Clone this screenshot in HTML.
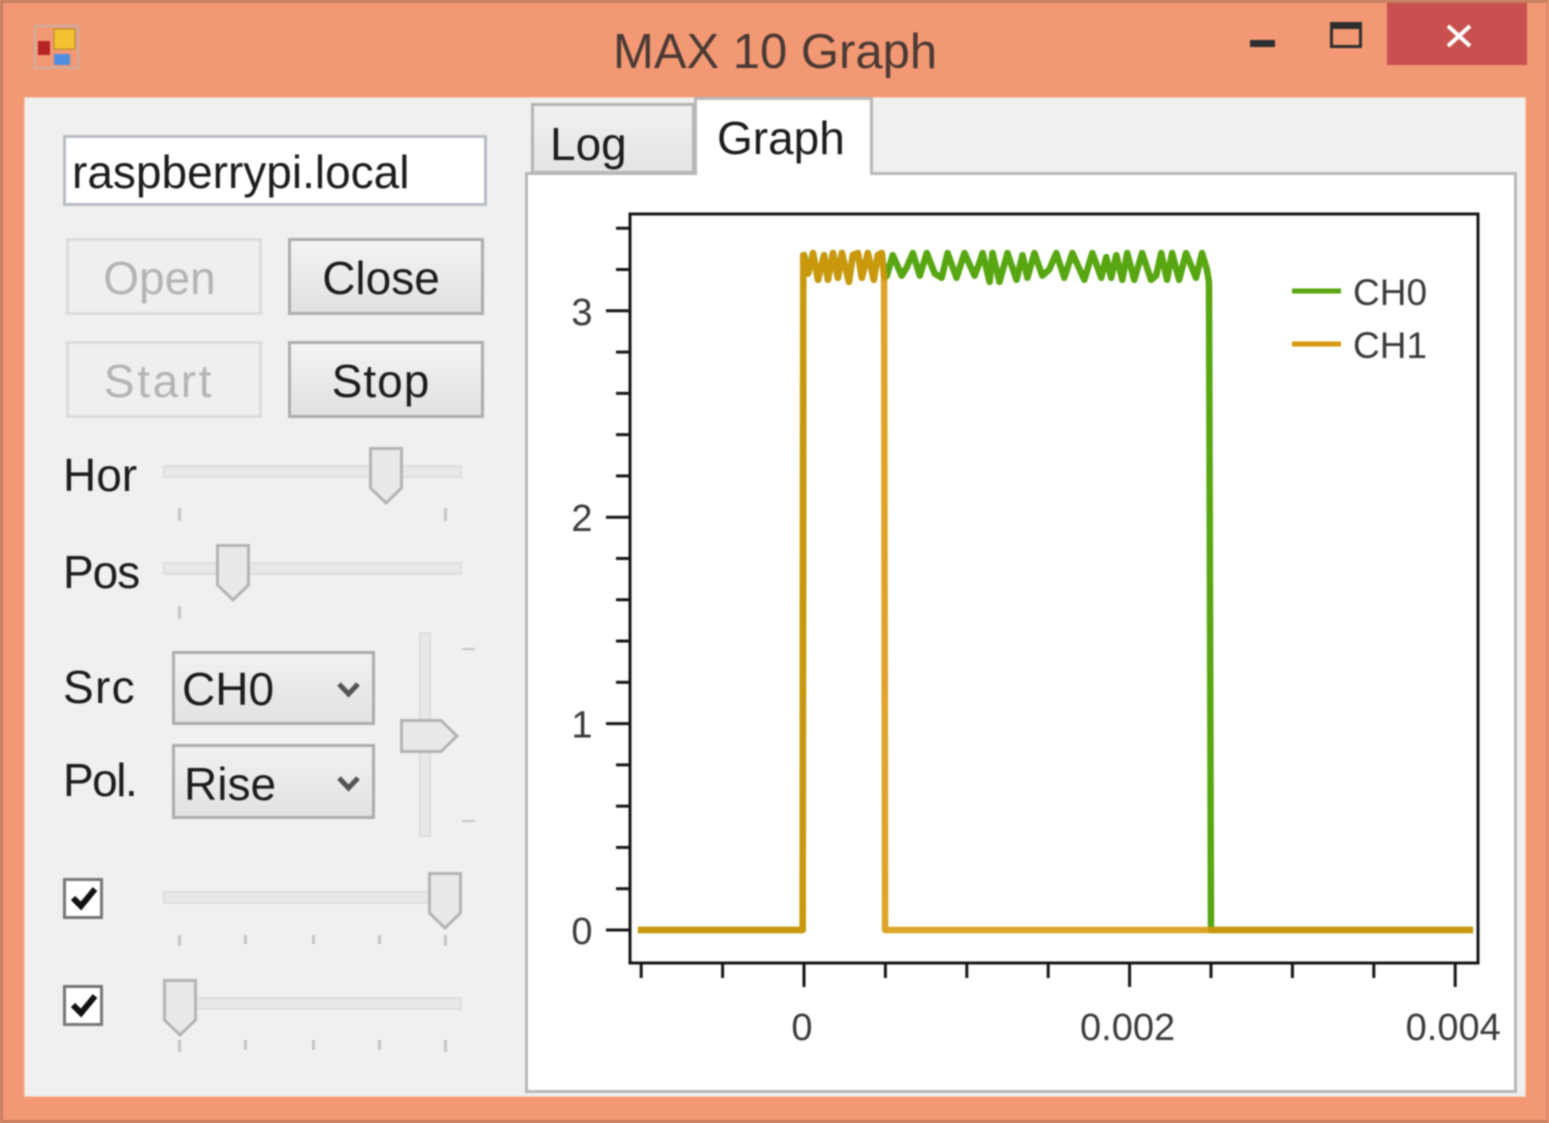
<!DOCTYPE html>
<html lang="en">
<head>
<meta charset="utf-8">
<title>MAX 10 Graph</title>
<style>
html,body{margin:0;padding:0;background:#f29874;}
#win{position:relative;width:1549px;height:1123px;overflow:hidden;background:#f29874;font-family:"Liberation Sans",sans-serif;color:#1c1c1c;filter:blur(.7px);box-sizing:border-box;border:3px solid #c47f60;border-right-color:#e08c6a;}
#win>*{position:absolute;box-sizing:border-box;}
.abs{position:absolute;}
.ui{font-size:46px;line-height:50px;white-space:nowrap;}
.btn{background:linear-gradient(#f3f3f3,#e1e1e1);border:3px solid #acacac;text-align:center;}
.off{background:#efefef;border:3px solid #dcdcdc;color:#b4b4b4;}
.combo{background:linear-gradient(#f1f1f1,#e2e2e2);border:3px solid #acacac;}
.track{background:#e6e9e6;border:2px solid #dcdfdc;}
.tick{background:#c4c4c4;width:3px;}
svg{overflow:visible;}
</style>
</head>
<body>
<div id="win">
  <div style="left:-3px;top:-3px;width:1549px;height:1123px;">
    <div class="abs" style="left:613px;top:24px;font-size:49px;line-height:56px;color:#4a3a34;white-space:nowrap;">MAX 10 Graph</div>
    <svg class="abs" style="left:34px;top:25px;" width="46" height="44">
      <rect x="1" y="1" width="43" height="42" fill="none" stroke="#c9b0a0" stroke-width="2"/>
      <rect x="20" y="4" width="21" height="20" fill="#f2c232" stroke="#b08a20"/>
      <rect x="4" y="16" width="12" height="14" fill="#b52525"/>
      <rect x="20" y="29" width="16" height="11" fill="#4f8fe0"/>
    </svg>
    <div class="abs" style="left:1250px;top:40px;width:25px;height:7px;background:#2e2e2e;"></div>
    <div class="abs" style="left:1330px;top:22px;width:32px;height:26px;border:3px solid #2e2e2e;border-top-width:7px;box-sizing:border-box;"></div>
    <div class="abs" style="left:1387px;top:3px;width:140px;height:62px;background:#c8504f;"></div>
    <svg class="abs" style="left:1446px;top:24px;" width="26" height="24"><path d="M2 2L24 22M24 2L2 22" stroke="#fff" stroke-width="4" fill="none"/></svg>

    <div class="abs" style="left:24px;top:97px;width:1502px;height:1000px;background:#f0f0f0;border:1px solid #f7cdb8;box-sizing:border-box;"></div>

    <div class="abs ui" style="left:63px;top:135px;width:424px;height:71px;background:#fff;border:3px solid #b8bcc4;box-sizing:border-box;padding:9px 0 0 6px;">raspberrypi.local</div>
    <div class="abs ui btn off" style="left:66px;top:238px;width:196px;height:77px;padding:12px 9px 0 0;box-sizing:border-box;">Open</div>
    <div class="abs ui btn" style="left:288px;top:238px;width:196px;height:77px;padding:12px 10px 0 0;box-sizing:border-box;">Close</div>
    <div class="abs ui btn off" style="left:66px;top:341px;width:196px;height:77px;padding:12px 10px 0 0;box-sizing:border-box;letter-spacing:2.6px;">Start</div>
    <div class="abs ui btn" style="left:288px;top:341px;width:196px;height:77px;padding:12px 10px 0 0;box-sizing:border-box;letter-spacing:1px;">Stop</div>

    <div class="abs ui" style="left:63px;top:450px;">Hor</div>
    <div class="abs track" style="left:163px;top:465px;width:299px;height:13px;box-sizing:border-box;"></div>
    <svg class="abs" style="left:369px;top:447px;" width="34" height="58"><path d="M1.5 1.5H32.5V41L17 56L1.5 41Z" fill="#e9e9e9" stroke="#b4b4b4" stroke-width="3"/></svg>
    <div class="abs tick" style="left:178px;top:508px;height:13px;"></div>
    <div class="abs tick" style="left:444px;top:508px;height:13px;"></div>

    <div class="abs ui" style="left:63px;top:547px;letter-spacing:-1px;">Pos</div>
    <div class="abs track" style="left:163px;top:562px;width:299px;height:13px;box-sizing:border-box;"></div>
    <svg class="abs" style="left:216px;top:544px;" width="34" height="58"><path d="M1.5 1.5H32.5V41L17 56L1.5 41Z" fill="#e9e9e9" stroke="#b4b4b4" stroke-width="3"/></svg>
    <div class="abs tick" style="left:178px;top:606px;height:13px;"></div>

    <div class="abs ui" style="left:63px;top:662px;letter-spacing:1.300px;">Src</div>
    <div class="abs ui combo" style="left:172px;top:651px;width:203px;height:74px;padding:10px 0 0 7px;box-sizing:border-box;">CH0</div>
    <svg class="abs" style="left:336px;top:681px;" width="25" height="18"><path d="M3 3L12.500 13L22 3" stroke="#555" stroke-width="5" fill="none"/></svg>
    <div class="abs ui" style="left:63px;top:755px;letter-spacing:-1.500px;">Pol.</div>
    <div class="abs ui combo" style="left:172px;top:744px;width:203px;height:75px;padding:12px 0 0 9px;box-sizing:border-box;">Rise</div>
    <svg class="abs" style="left:336px;top:775px;" width="25" height="18"><path d="M3 3L12.500 13L22 3" stroke="#555" stroke-width="5" fill="none"/></svg>

    <div class="abs track" style="left:419px;top:632px;width:12px;height:205px;box-sizing:border-box;"></div>
    <svg class="abs" style="left:400px;top:719px;" width="59" height="34"><path d="M1.500 1.500H41L57 17L41 32.500H1.500Z" fill="#e9e9e9" stroke="#b4b4b4" stroke-width="3"/></svg>
    <div class="abs" style="left:462px;top:648px;width:13px;height:2px;background:#c4c4c4;"></div>
    <div class="abs" style="left:462px;top:820px;width:13px;height:2px;background:#c4c4c4;"></div>

    <div class="abs" style="left:63px;top:878px;width:40px;height:41px;background:#fff;border:3px solid #777;box-sizing:border-box;"></div>
    <svg class="abs" style="left:70px;top:884px;" width="28" height="28"><path d="M3 14L11 22L25 5" stroke="#111" stroke-width="6" fill="none"/></svg>
    <div class="abs track" style="left:163px;top:891px;width:299px;height:13px;box-sizing:border-box;"></div>
    <svg class="abs" style="left:428px;top:872px;" width="34" height="58"><path d="M1.5 1.5H32.5V41L17 56L1.5 41Z" fill="#e9e9e9" stroke="#b4b4b4" stroke-width="3"/></svg>
    <div class="abs tick" style="left:178px;top:935px;height:11px;"></div>
    <div class="abs tick" style="left:244px;top:935px;height:9px;"></div>
    <div class="abs tick" style="left:312px;top:935px;height:9px;"></div>
    <div class="abs tick" style="left:378px;top:935px;height:9px;"></div>
    <div class="abs tick" style="left:444px;top:935px;height:11px;"></div>

    <div class="abs" style="left:63px;top:985px;width:40px;height:41px;background:#fff;border:3px solid #777;box-sizing:border-box;"></div>
    <svg class="abs" style="left:70px;top:991px;" width="28" height="28"><path d="M3 14L11 22L25 5" stroke="#111" stroke-width="6" fill="none"/></svg>
    <div class="abs track" style="left:163px;top:997px;width:299px;height:13px;box-sizing:border-box;"></div>
    <svg class="abs" style="left:163px;top:979px;" width="34" height="58"><path d="M1.5 1.5H32.5V41L17 56L1.5 41Z" fill="#e9e9e9" stroke="#b4b4b4" stroke-width="3"/></svg>
    <div class="abs tick" style="left:178px;top:1040px;height:12px;"></div>
    <div class="abs tick" style="left:244px;top:1040px;height:10px;"></div>
    <div class="abs tick" style="left:312px;top:1040px;height:10px;"></div>
    <div class="abs tick" style="left:378px;top:1040px;height:10px;"></div>
    <div class="abs tick" style="left:444px;top:1040px;height:12px;"></div>

    <div class="abs ui" style="left:531px;top:103px;width:164px;height:71px;background:linear-gradient(#f1f1f1,#e4e4e4);border:3px solid #b4b4b4;box-sizing:border-box;padding:13px 0 0 16px;">Log</div>
    <div class="abs" style="left:525px;top:172px;width:992px;height:921px;background:#fff;border:3px solid #b8b8b8;box-sizing:border-box;"></div>
    <div class="abs ui" style="left:694px;top:97px;width:179px;height:78px;background:#fff;border:3px solid #b8b8b8;border-bottom:none;box-sizing:border-box;padding:13px 0 0 20px;">Graph</div>

    <svg id="chart" class="abs" style="left:0;top:0;" width="1549" height="1123"></svg>
  </div>
</div>
<script>
const xMajorTicks = [0, 0.002, 0.004];
const xMajorLabels = ["0", "0.002", "0.004"];
const xMinorTicks = [-0.001, -0.0005, 0.0005, 0.001, 0.0015, 0.0025, 0.003, 0.0035];
const yMajorTicks = [0, 1, 2, 3];
const yMajorLabels = ["0", "1", "2", "3"];
const yMinorTicks = [0.2, 0.4, 0.6, 0.8, 1.2, 1.4, 1.6, 1.8, 2.2, 2.4, 2.6, 2.8, 3.2, 3.4];
const seriesNames = ["CH0", "CH1"];
const ch0Seconds = [-0.00102, -0.000008, -0.000004, 0, 0.000025, 0.000055, 0.000086, 0.000123, 0.000147, 0.000178, 0.000208, 0.000233, 0.000276, 0.0003, 0.000331, 0.000355, 0.000392, 0.000429, 0.000453, 0.000478, 0.000496, 0.000509, 0.000545, 0.0006, 0.000631, 0.000668, 0.000711, 0.000754, 0.000803, 0.000846, 0.000882, 0.000937, 0.000986, 0.001048, 0.001072, 0.001097, 0.00114, 0.001158, 0.001201, 0.00125, 0.001305, 0.001342, 0.001372, 0.001415, 0.001464, 0.001507, 0.00155, 0.001599, 0.001648, 0.001722, 0.001771, 0.001826, 0.001856, 0.001887, 0.001918, 0.001955, 0.001985, 0.002028, 0.002077, 0.002132, 0.002163, 0.002194, 0.00223, 0.002261, 0.002304, 0.002347, 0.002408, 0.002445, 0.002475, 0.002488, 0.0025, 0.00411];
const ch0Volts = [0, 0, 3.27, 3.27, 3.18, 3.28, 3.15, 3.27, 3.15, 3.28, 3.16, 3.28, 3.14, 3.27, 3.28, 3.16, 3.28, 3.15, 3.27, 3.28, 3.16, 3.17, 3.27, 3.17, 3.21, 3.28, 3.17, 3.28, 3.18, 3.16, 3.28, 3.16, 3.28, 3.17, 3.22, 3.28, 3.14, 3.28, 3.14, 3.28, 3.15, 3.27, 3.16, 3.28, 3.17, 3.2, 3.28, 3.16, 3.28, 3.15, 3.28, 3.16, 3.26, 3.16, 3.27, 3.15, 3.28, 3.15, 3.28, 3.15, 3.17, 3.28, 3.15, 3.28, 3.15, 3.28, 3.16, 3.28, 3.2, 3.14, 0, 0];
const ch1Seconds = [-0.00102, -0.000008, -0.000004, 0.000025, 0.000055, 0.000086, 0.000123, 0.000147, 0.000178, 0.000208, 0.000233, 0.000276, 0.0003, 0.000331, 0.000355, 0.000392, 0.000429, 0.000453, 0.000478, 0.000492, 0.000498, 0.00411];
const ch1Volts = [0, 0, 3.27, 3.18, 3.28, 3.15, 3.27, 3.15, 3.28, 3.16, 3.28, 3.14, 3.27, 3.28, 3.16, 3.28, 3.15, 3.27, 3.28, 3.16, 0, 0];

const svgNS = "http://www.w3.org/2000/svg";
const chart = document.getElementById("chart");
function xScale(v) { return 804 + v * 162800; }
function yScale(v) { return 930 - v * 206.4; }
function pathFrom(times, volts) {
  return times.map(function (t, i) {
    return (i ? "L" : "M") + xScale(t).toFixed(1) + " " + yScale(volts[i]).toFixed(1);
  }).join("");
}
function make(tag, attrs, text) {
  const el = document.createElementNS(svgNS, tag);
  Object.keys(attrs).forEach(function (k) { el.setAttribute(k, attrs[k]); });
  if (text !== undefined) el.textContent = text;
  chart.appendChild(el);
  return el;
}
const axisStroke = "#151515";
const labelStyle = { "font-family": "Liberation Sans, sans-serif", "font-size": 38, fill: "#3a3a3a" };

const plotFrame = make("rect", { x: 630, y: 214, width: 848, height: 749, fill: "#fff", stroke: axisStroke, "stroke-width": 3 });



xMajorTicks.forEach(function (v, i) {
  const tick = make("line", { x1: xScale(v), x2: xScale(v), y1: 963, y2: 987, stroke: axisStroke, "stroke-width": 3 });
  
  
  const anchorX = xScale(v) - 2;
  const label = make("text", Object.assign({ x: anchorX, y: 1040, "text-anchor": "middle" }, labelStyle), xMajorLabels[i]);
  
  
});
xMinorTicks.forEach(function (v) {
  const tick = make("line", { x1: xScale(v), x2: xScale(v), y1: 963, y2: 978, stroke: axisStroke, "stroke-width": 3 });
  
  
});
yMajorTicks.forEach(function (v, i) {
  const tick = make("line", { x1: 606, x2: 630, y1: yScale(v), y2: yScale(v), stroke: axisStroke, "stroke-width": 3 });
  
  
  const label = make("text", Object.assign({ x: 582, y: yScale(v) + 14, "text-anchor": "middle" }, labelStyle), yMajorLabels[i]);
  
  
});
yMinorTicks.forEach(function (v) {
  const tick = make("line", { x1: 616, x2: 630, y1: yScale(v), y2: yScale(v), stroke: axisStroke, "stroke-width": 3 });
  
  
});

const ch0Line = make("path", { d: pathFrom(ch0Seconds, ch0Volts), fill: "none", stroke: "#58a612", "stroke-width": 6.5, "stroke-linejoin": "round" });


const ch1Line = make("path", { d: pathFrom(ch1Seconds, ch1Volts), fill: "none", stroke: "#d8960c", "stroke-opacity": 0.88, "stroke-width": 6.5, "stroke-linejoin": "round" });



const legendColors = ["#58a612", "#d8960c"];
seriesNames.forEach(function (name, i) {
  const rowY = 291 + i * 53;
  const swatch = make("line", { x1: 1292, x2: 1341, y1: rowY, y2: rowY, stroke: legendColors[i], "stroke-width": 5 });
  
  
  const label = make("text", Object.assign({}, labelStyle, { x: 1353, y: rowY + 14, "font-size": 37 }), name);
  
  
});
</script>
</body>
</html>
